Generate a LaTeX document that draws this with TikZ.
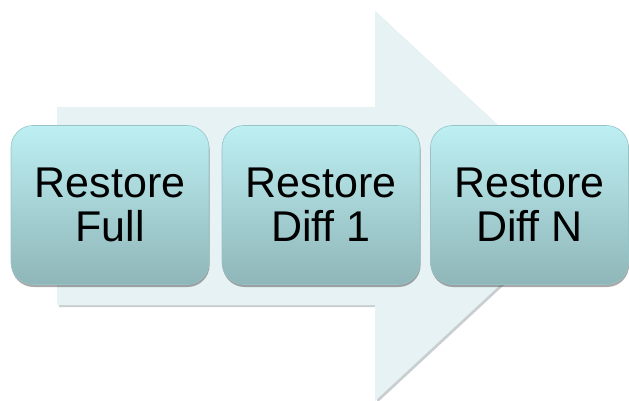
\documentclass[tikz,border=0pt]{standalone}
\usepackage{fontspec}
\setmainfont{Liberation Sans}
\usetikzlibrary{shadows}
\definecolor{arrowfill}{HTML}{E7F2F4}
\definecolor{arrowedge}{HTML}{C9CFD0}
\definecolor{boxtop}{HTML}{BDEFF3}
\definecolor{boxbottom}{HTML}{8FB6B8}
\definecolor{boxline}{HTML}{97C3C6}
\tikzset{
  stagebox/.style={
    rounded corners=22pt, minimum width=198pt, minimum height=159pt,
    inner sep=0pt, top color=boxtop, bottom color=boxbottom,
    draw=boxline, line width=0.6pt, align=center,
    font=\fontsize{43}{44}\selectfont, text=black,
    drop shadow={shadow xshift=0.6pt, shadow yshift=-2.5pt, opacity=0.45, fill=black!75}
  }
}
\begin{document}
\begin{tikzpicture}[x=1pt,y=-1pt]
  \useasboundingbox (0,0) rectangle (629,400);
  % background block arrow with a faint edge shadow
  \fill[arrowedge] (59,109) -- (377,109) -- (377,13) -- (587,208) -- (377,403)
    -- (377,307) -- (59,307) -- cycle;
  \fill[arrowfill] (57,107) -- (375,107) -- (375,11) -- (585,206) -- (375,401)
    -- (375,305) -- (57,305) -- cycle;
  % the three restore stages
  \node[stagebox] (full)  at (110,205) {Restore\\Full};
  \node[stagebox] (diff1) at (321,205) {Restore\\Diff 1};
  \node[stagebox] (diffn) at (529.5,205) {Restore\\Diff N};
\end{tikzpicture}
\end{document}
